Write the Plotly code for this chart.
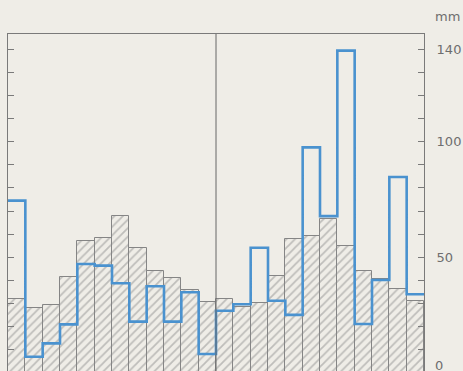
import numpy as np
import plotly.graph_objects as go

# 24 periods (two years of months), values in mm
periods = list(range(24))
normal_mm = [32.0, 28.2, 29.3, 41.6, 57.2, 58.5, 67.8, 54.2, 43.9, 40.9, 35.9, 30.7,
             32.0, 28.7, 30.1, 41.9, 57.8, 59.2, 66.4, 54.9, 44.1, 40.8, 36.4, 31.0]
actual_mm = [74.5, 7.0, 12.8, 21.0, 47.1, 46.4, 38.8, 22.2, 37.5, 22.2, 34.9, 8.2,
             26.9, 29.7, 54.1, 31.2, 25.1, 97.5, 67.8, 139.3, 21.2, 40.2, 84.7, 34.0]
tick_vals = list(range(0, 150, 10))
label_vals = [50, 100, 140]

paper = "#efede7"
grey = "#7a7a7a"
blue = "#4a92cf"
label_font = dict(family="DejaVu Sans", size=13, color="#6e6e6e")

fig = go.Figure()

fig.add_trace(go.Bar(
    x=periods, y=normal_mm,
    marker=dict(
        color=paper,
        line=dict(color="#858585", width=1),
        pattern=dict(shape="/", fgcolor="#8e8e8e", bgcolor=paper, size=6, solidity=0.3),
    ),
    width=1.0,
))

# step outline of the observed values, edges built from the period positions
edges = np.array(periods + [periods[-1] + 1]) - 0.5
fig.add_trace(go.Scatter(
    x=edges, y=actual_mm + [actual_mm[-1]],
    mode="lines", line=dict(color=blue, width=2.6, shape="hv"),
))

fig.add_vline(x=11.5, line=dict(color="#666666", width=1))

fig.update_xaxes(
    range=[-0.5, 23.5], showticklabels=False, ticks="",
    showline=True, linecolor=grey, linewidth=1, mirror=True,
    showgrid=False, zeroline=False,
)
fig.update_yaxes(
    range=[0.86, 146.5], side="right",
    tickvals=tick_vals,
    ticktext=[str(v) if v in label_vals else "" for v in tick_vals],
    ticks="inside", ticklen=6, tickcolor=grey, tickwidth=1,
    ticklabelstandoff=9, tickfont=label_font,
    showline=True, linecolor=grey, linewidth=1, mirror="ticks",
    showgrid=False, zeroline=False,
)

# the zero label sits just below the visible range, half cut by the page edge
fig.add_annotation(x=1, xref="paper", xanchor="left", xshift=9, y=0, yref="paper",
                   yanchor="middle", yshift=6, text="0", showarrow=False, font=label_font)
fig.add_annotation(x=1, xref="paper", xanchor="left", xshift=9, y=1, yref="paper",
                   yanchor="bottom", yshift=8, text="mm", showarrow=False, font=label_font)

fig.update_layout(
    width=463, height=371, autosize=False,
    margin=dict(l=8, r=39, t=34, b=0),
    paper_bgcolor=paper, plot_bgcolor=paper,
    showlegend=False, bargap=0, hovermode=False,
)

fig.write_html("out.html", config={"displayModeBar": False},
               post_script="document.body.style.margin='0';")
